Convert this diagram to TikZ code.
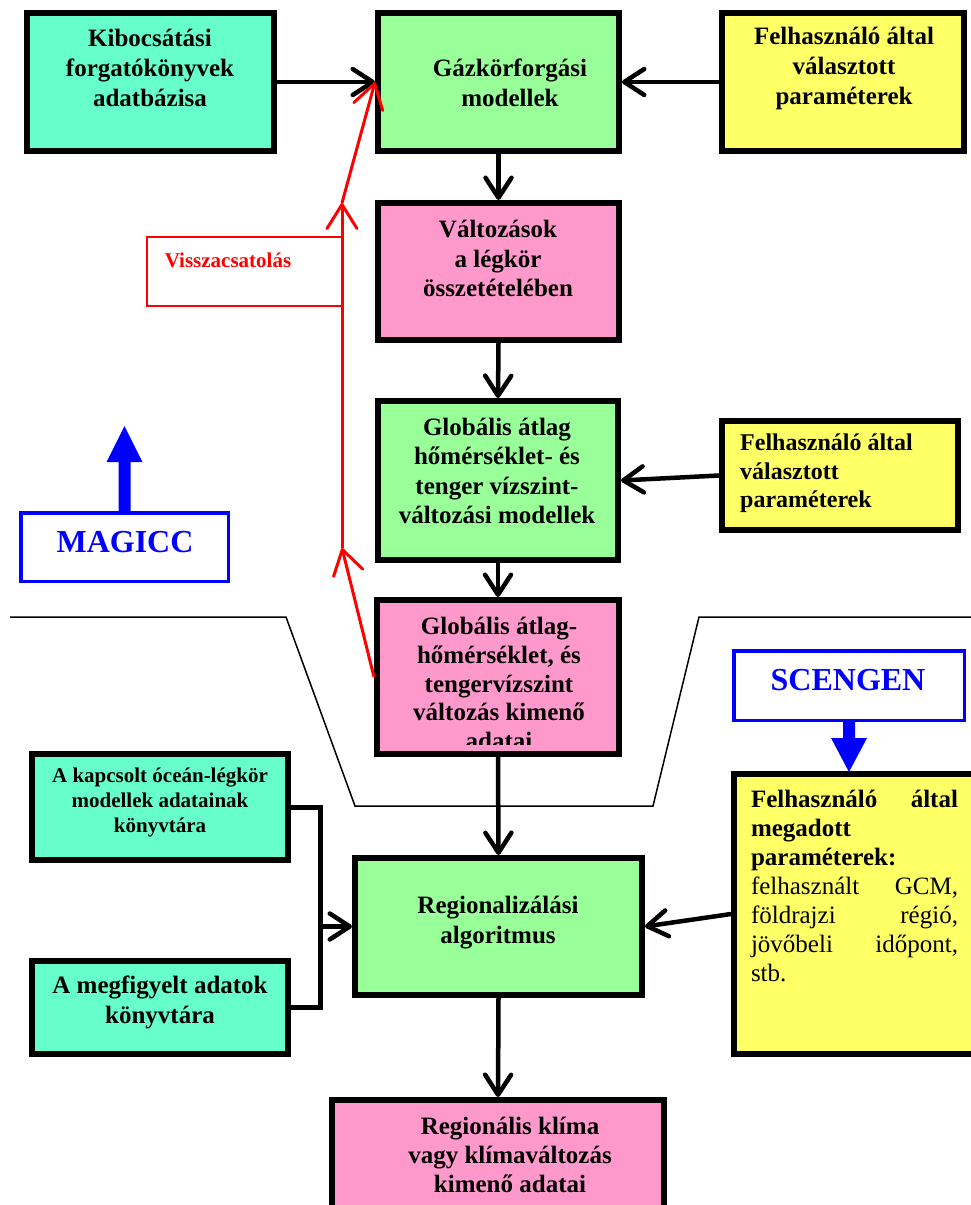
\documentclass[tikz,border=0pt]{standalone}
\usepackage{fontspec}
\setmainfont{Liberation Serif}
\usetikzlibrary{arrows.meta}
\definecolor{tealbox}{HTML}{66FFCC}
\definecolor{greenbox}{HTML}{99FF99}
\definecolor{yellowbox}{HTML}{FFFF66}
\definecolor{pinkbox}{HTML}{FF99CC}
\definecolor{pureblue}{HTML}{0000FF}
\definecolor{purered}{HTML}{FF0000}
\begin{document}
\begin{tikzpicture}[x=1pt,y=-1pt,
  flowbox/.style={draw=black, line width=6pt, inner sep=0pt},
  bluebox/.style={draw=pureblue, line width=3.5pt, inner sep=0pt, fill=white},
  txt/.style={inner sep=0pt, align=center, font=\bfseries\fontsize{25}{30}\selectfont},
  arr/.style={line width=4.5pt, -{Straight Barb[length=20pt,width=26pt,round]}},
  fbarr/.style={draw=purered, line width=3pt, -{Straight Barb[length=24pt,width=30pt,round]}},
  blockarrow/.style={fill=pureblue, draw=none},
  thinline/.style={line width=1.5pt}]
\useasboundingbox (0,0) rectangle (971,1205);
\fill[white] (0,0) rectangle (971,1205);

% separator line
\draw[thinline] (10,617) -- (286,617) -- (355,806) -- (653,806) -- (699,617) -- (975,617);

% boxes
\node[flowbox, fill=tealbox, minimum width=247pt, minimum height=138pt] (kib) at (150.5,82) {};
\node[flowbox, fill=greenbox, minimum width=241pt, minimum height=138pt] (gaz) at (498.5,82) {};
\node[flowbox, fill=yellowbox, minimum width=242pt, minimum height=138pt] (fel1) at (843,82) {};
\node[flowbox, fill=pinkbox, minimum width=241pt, minimum height=137pt] (valt) at (498.5,271.5) {};
\node[flowbox, fill=greenbox, minimum width=240pt, minimum height=159pt] (glob) at (498,480.5) {};
\node[flowbox, fill=yellowbox, minimum width=236pt, minimum height=109pt] (fel2) at (840,475.5) {};
\node[flowbox, fill=pinkbox, minimum width=242pt, minimum height=154pt] (gki) at (498,677) {};
\node[flowbox, fill=yellowbox, minimum width=248pt, minimum height=280pt] (fel3) at (858,914) {};
\node[flowbox, fill=tealbox, minimum width=256pt, minimum height=106pt] (kap) at (160,807) {};
\node[flowbox, fill=tealbox, minimum width=256pt, minimum height=93pt] (meg) at (160,1007.5) {};
\node[flowbox, fill=greenbox, minimum width=287pt, minimum height=137pt] (reg) at (498.5,926.5) {};
\node[flowbox, fill=pinkbox, minimum width=332pt, minimum height=127pt] (rkl) at (498,1163.5) {};
\node[bluebox, minimum width=207.5pt, minimum height=68.5pt] (magicc) at (124.5,547) {};
\node[bluebox, minimum width=230.5pt, minimum height=69.5pt] (scengen) at (849,685.5) {};
\node[draw=purered, line width=1.5pt, inner sep=0pt, minimum width=195pt, minimum height=69pt] (vbox) at (244.5,271.5) {};

% texts
\node[txt] (tkib) at (150,68) {Kibocsátási\\forgatókönyvek\\adatbázisa};
\node[txt] (tgaz) at (510,83) {Gázkörforgási\\modellek};
\node[txt] (tfel1) at (844,68) {Felhasználó által\\választott\\paraméterek};
\node[txt, font=\bfseries\fontsize{25}{29.5}\selectfont] (tvalt) at (498,258.5) {Változások\\a légkör\\összetételében};
\node[txt, font=\bfseries\fontsize{25}{29.3}\selectfont] (tglob) at (497,471) {Globális átlag\\hőmérséklet- és\\tenger vízszint-\\változási modellek};
\node[txt, anchor=west, align=left, font=\bfseries\fontsize{24}{28.5}\selectfont] (tfel2) at (740,473.5) {Felhasználó által\\választott\\paraméterek};
\begin{scope}
\clip (376,600) rectangle (620,744);
\node[txt, font=\bfseries\fontsize{25}{28.8}\selectfont] (tgki) at (499,683.5) {Globális átlag-\\hőmérséklet, és\\tengervízszint\\változás kimenő\\adatai};
\end{scope}
\node[txt, font=\bfseries\fontsize{21}{25}\selectfont] (tkap) at (160,802) {A kapcsolt óceán-légkör\\modellek adatainak\\könyvtára};
\node[txt] (tmeg) at (160,1002) {A megfigyelt adatok\\könyvtára};
\node[txt] (treg) at (498,923) {Regionalizálási\\algoritmus};
\node[txt, font=\bfseries\fontsize{25}{29}\selectfont] (trkl) at (510,1155) {Regionális klíma\\vagy klímaváltozás\\kimenő adatai};
\node[inner sep=0pt, text width=207pt, align=left, font=\fontsize{25}{29}\selectfont] (tfel3) at (854.5,886)
  {\textbf{Felhasználó\hfill által}\\\textbf{megadott}\\\textbf{paraméterek:}\\felhasznált\hfill GCM,\\földrajzi\hfill régió,\\jövőbeli\hfill időpont,\\stb.};
\node[inner sep=0pt, text=pureblue, font=\bfseries\fontsize{32}{36}\selectfont] (tmagicc) at (125,542) {MAGICC};
\node[inner sep=0pt, text=pureblue, font=\bfseries\fontsize{32}{36}\selectfont] (tscengen) at (848,680) {SCENGEN};
\node[inner sep=0pt, text=purered, font=\bfseries\fontsize{21}{25}\selectfont] (tvissza) at (228,260) {Visszacsatolás};

% block arrows
\fill[blockarrow] (magicc.north) ++(-6,0) -- ++(0,-49) -- ++(-12,0) -- ++(18,-36) -- ++(18,36) -- ++(-12,0) -- ++(0,49) -- cycle;
\fill[blockarrow] (scengen.south) ++(-6,0) -- ++(0,16) -- ++(-12,0) -- ++(18,34) -- ++(18,-34) -- ++(-12,0) -- ++(0,-16) -- cycle;

% black connectors
\draw[arr] (kib.east) -- (gaz.west);
\draw[arr] (fel1.west) -- (gaz.east);
\draw[arr] (gaz.south) -- (valt.north);
\draw[arr] (valt.south) -- (glob.north);
\draw[arr] (fel2.west) -- (glob.east);
\draw[arr] (glob.south) -- (gki.north);
\draw[arr] (gki.south) -- (reg.north);
\draw[arr] (fel3.west) -- (reg.east);
\draw[arr] (reg.south) -- (rkl.north);
\coordinate (bx) at (320,926.5);
\draw[line width=5pt] (kap.east) -| (bx) |- (meg.east);
\draw[arr] (bx) -- (reg.west);

% feedback
\coordinate (fb1) at (342,548);
\coordinate (fb2) at (342,203);
\draw[fbarr] (gki.west) -- (fb1);
\draw[fbarr] (fb1) -- (fb2);
\draw[fbarr] (fb2) -- (gaz.west);
\end{tikzpicture}
\end{document}
